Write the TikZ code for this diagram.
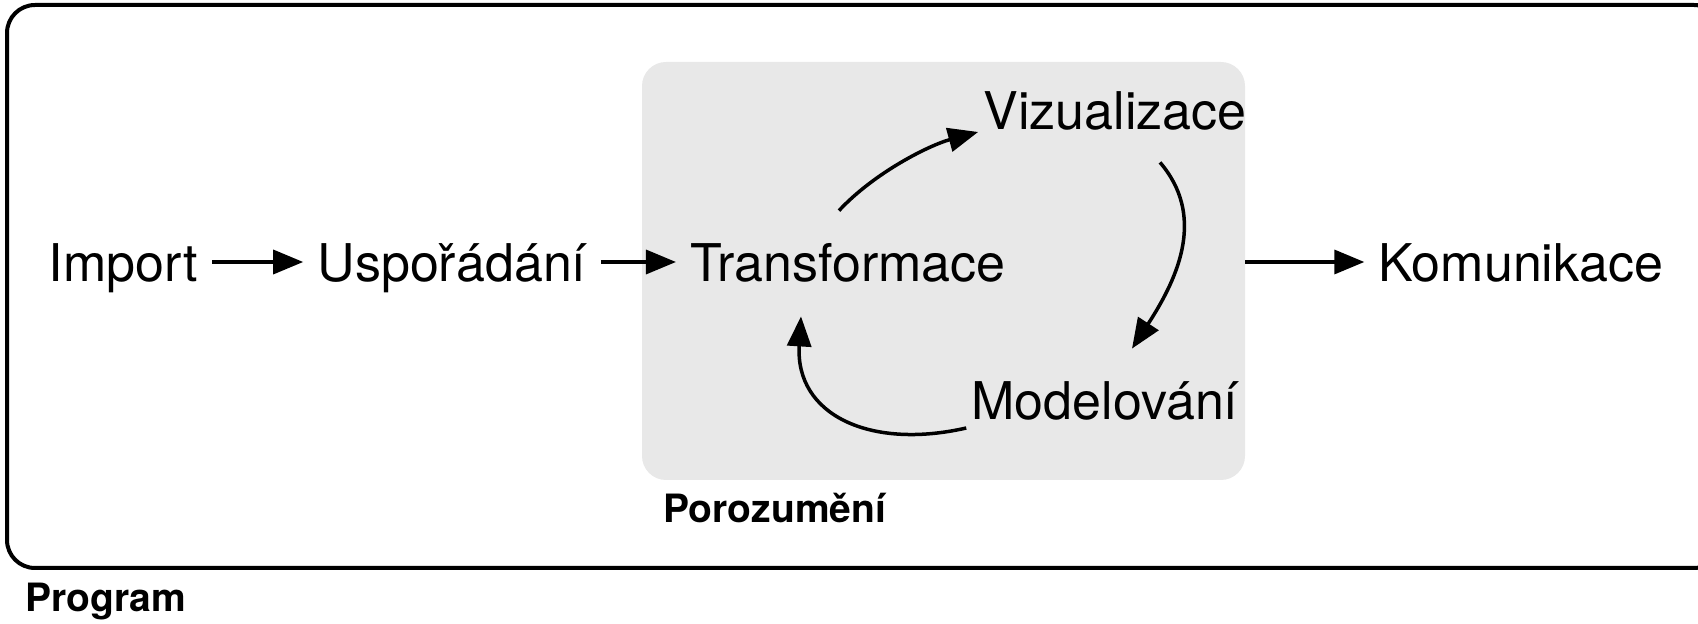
\documentclass[tikz,border=0pt]{standalone}
\usepackage{fontspec}
\setmainfont{TeX Gyre Heros}
\usetikzlibrary{arrows.meta}

\definecolor{boxgray}{RGB}{232,232,232}

\begin{document}
\begin{tikzpicture}[x=0.5pt, y=-0.5pt,
    stage/.style={font=\fontsize{26}{31}\selectfont, inner xsep=7pt, inner ysep=0pt,
      text height=20pt, text depth=0pt, anchor=base},
    tag/.style={font=\fontsize{19.5}{23}\selectfont\bfseries, inner sep=0pt, anchor=base west},
    arr/.style={line width=1.75pt, -{Triangle[length=15pt,width=12pt]}}]
      \useasboundingbox (0,0) rectangle (1698,624);
      % Program frame
      \draw[line width=2pt, rounded corners=14pt] (7,5) rectangle (1722,568);
      \node[tag] (program) at (25,612) {Program};
      % Porozumeni box
      \node[fill=boxgray, rounded corners=12pt, inner sep=0pt,
        minimum width=301.5pt, minimum height=209pt] (porozumeni) at (943.5,271) {};
      \node[tag] (porlabel) at (663,523) {Porozumění};
      % Stages
      \node[stage] (import) at (123.5,282) {Import};
      \node[stage] (usp) at (452,282) {Uspořádání};
      \node[stage] (trans) at (848,282) {Transformace};
      \node[stage] (viz) at (1115,130) {Vizualizace};
      \node[stage] (model) at (1105,420) {Modelování};
      \node[stage] (kom) at (1521,282) {Komunikace};
      % Straight arrows
      \draw[arr] (import) -- (usp);
      \draw[arr] (usp) -- (trans);
      \draw[arr] (porozumeni.east |- kom) -- (kom);
      % Cycle
      \draw[arr] ([shift={(-9,-31)}]trans.north) .. controls (875,172) and (930,145) .. ([shift={(9,2)}]viz.base west);
      \draw[arr] ([shift={(45,32)}]viz.south) .. controls (1205,215) and (1180,275) .. ([shift={(27,-31)}]model.north);
      \draw[arr] ([shift={(9,8)}]model.base west) .. controls (870,450) and (795,415) .. ([shift={(-47,34)}]trans.south);
\end{tikzpicture}
\end{document}
